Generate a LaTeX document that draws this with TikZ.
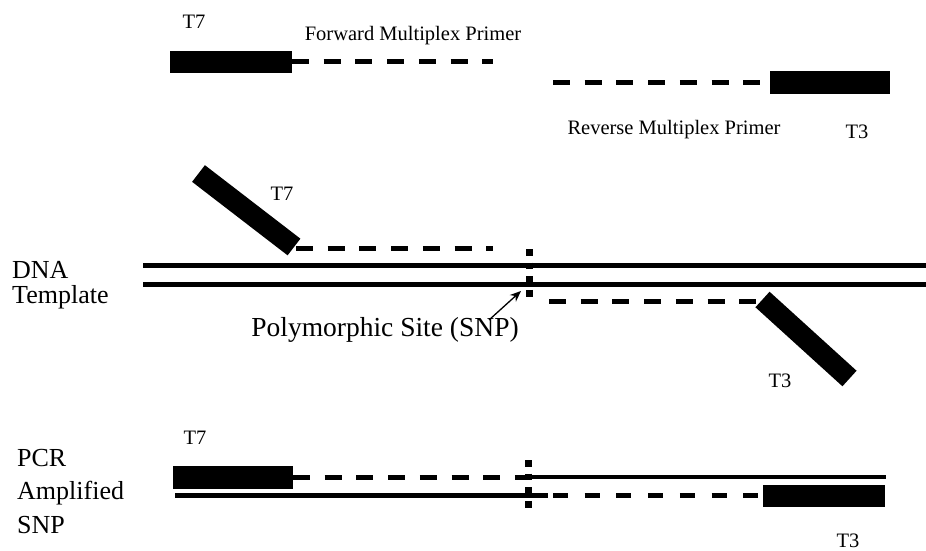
\documentclass[tikz,border=0pt]{standalone}
\usepackage{fontspec}
\setmainfont{Liberation Serif}
\usetikzlibrary{arrows.meta}
\begin{document}
\begin{tikzpicture}[x=1pt,y=-1pt,
  lab/.style={font=\fontsize{20.5}{24}\selectfont, inner sep=0pt, anchor=base},
  biglab/.style={font=\fontsize{26}{30}\selectfont, inner sep=0pt, anchor=base west},
  primerbox/.style={fill=black},
  tailline/.style={line width=5pt, dash pattern=on 17pt off 14.7pt},
  strand/.style={line width=4.5pt},
  snpdots/.style={line width=7pt, dash pattern=on 6.8pt off 6.8pt},
  tagbar/.style={line width=21pt},
  pointer/.style={line width=1.3pt, -{Stealth[length=11pt,width=9pt]}}
]
\useasboundingbox (0,0) rectangle (926,551);

% ---------- top: primers ----------
\fill[primerbox] (170,51) rectangle (292,73);
\coordinate (fwdA) at (292,62);
\coordinate (fwdB) at (493,62);
\draw[tailline] (fwdA) -- (fwdB);
\node[lab] (t7a) at (194,29) {T7};
\node[lab] (fwd) at (413,41) {Forward Multiplex Primer};

\fill[primerbox] (770,71) rectangle (890,94);
\coordinate (revA) at (553,82);
\coordinate (revB) at (770,82);
\draw[tailline] (revA) -- (revB);
\node[lab] (rev) at (674,134) {Reverse Multiplex Primer};
\node[lab] (t3a) at (857,138) {T3};

% ---------- middle: template ----------
\coordinate (barAa) at (198.5,173.5);
\coordinate (barAb) at (294,247);
\draw[tagbar] (barAa) -- (barAb);
\node[lab] (t7b) at (282,200) {T7};
\coordinate (fA) at (296,248);
\coordinate (fB) at (493,248);
\draw[tailline] (fA) -- (fB);

\coordinate (d1a) at (143,265.5);
\coordinate (d1b) at (926,265.5);
\coordinate (d2a) at (143,284.5);
\coordinate (d2b) at (926,284.5);
\draw[strand] (d1a) -- (d1b);
\draw[strand] (d2a) -- (d2b);

\coordinate (snpTop) at (529,249);
\coordinate (snpBot) at (529,298);
\draw[snpdots] (snpTop) -- (snpBot);

\coordinate (rA) at (549,301);
\coordinate (rB) at (763,301);
\draw[tailline] (rA) -- (rB);
\coordinate (barBa) at (762.5,299.5);
\coordinate (barBb) at (849.5,378.5);
\draw[tagbar] (barBa) -- (barBb);
\node[lab] (t3b) at (780,387) {T3};

\node[biglab] (dna) at (12,278.5) {DNA};
\node[biglab] (tmpl) at (12,303) {Template};

\node[font=\fontsize{27.5}{32}\selectfont, inner sep=0pt, anchor=base] (poly) at (385,336) {Polymorphic Site (SNP)};
\coordinate (arrTail) at (489,320);
\coordinate (arrTip) at (521,291);
\draw[pointer] (arrTail) -- (arrTip);

% ---------- bottom: PCR product ----------
\node[lab] (t7c) at (195,444) {T7};
\node[biglab] (pcr) at (17,466) {PCR};
\node[biglab] (ampl) at (17,499.5) {Amplified};
\node[biglab] (snp) at (17,533) {SNP};

\fill[primerbox] (173,466) rectangle (293,489);
\coordinate (pA) at (293,477);
\coordinate (pB) at (528,477);
\coordinate (pC) at (886,477);
\draw[tailline] (pA) -- (pB);
\draw[strand] (pB) -- (pC);

\coordinate (qA) at (175,495.5);
\coordinate (qB) at (548,495.5);
\coordinate (qC) at (553,495.5);
\coordinate (qD) at (763,495.5);
\draw[strand] (qA) -- (qB);
\draw[line width=5pt, dash pattern=on 15pt off 16.7pt] (qC) -- (qD);
\fill[primerbox] (763,485) rectangle (885,507);

\coordinate (snp2Top) at (528,460);
\coordinate (snp2Bot) at (528,508);
\draw[snpdots] (snp2Top) -- (snp2Bot);
\node[lab] (t3c) at (848,547) {T3};
\end{tikzpicture}
\end{document}
